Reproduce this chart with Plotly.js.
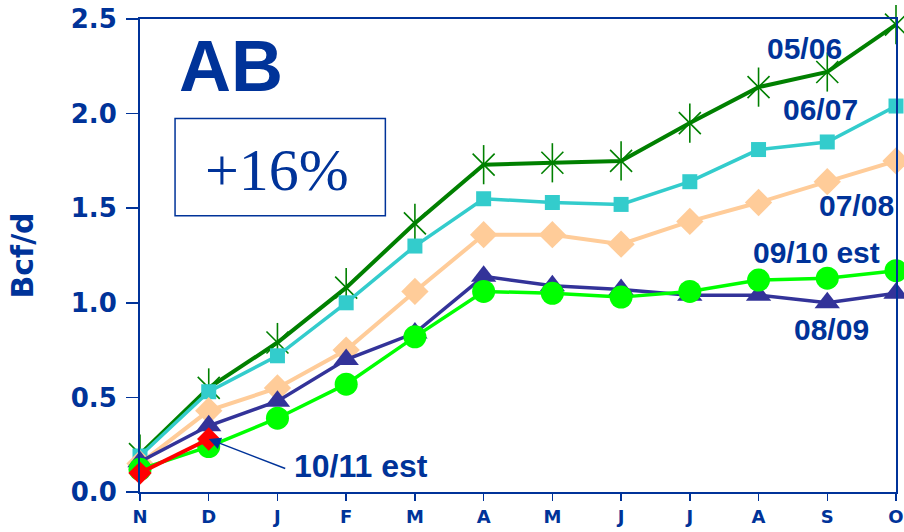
<!DOCTYPE html>
<html>
<head>
<meta charset="utf-8">
<script src="https://cdn.plot.ly/plotly-3.0.1.min.js"></script>
<style>html,body{margin:0;padding:0;background:#fff;}#chart{width:904px;height:532px;}</style>
</head>
<body>
<div id="chart"></div>
<script>
// Month tick labels (Nov .. Oct)
const months = ['N','D','J','F','M','A','M','J','J','A','S','O'];
const yTickVals = [0, 0.5, 1.0, 1.5, 2.0, 2.5];
const yTickText = ['0.0', '0.5', '1.0', '1.5', '2.0', '2.5'];

// Series values, Bcf/d
const s0506 = [0.20, 0.55, 0.79, 1.08, 1.42, 1.73, 1.74, 1.75, 1.95, 2.14, 2.22, 2.47];
const s0607 = [0.19, 0.53, 0.72, 1.00, 1.30, 1.55, 1.53, 1.52, 1.64, 1.81, 1.85, 2.04];
const s0708 = [0.15, 0.43, 0.55, 0.75, 1.06, 1.36, 1.36, 1.31, 1.43, 1.53, 1.64, 1.75];
const s0809 = [0.16, 0.35, 0.48, 0.70, 0.84, 1.14, 1.09, 1.07, 1.04, 1.04, 1.00, 1.05];
const s0910 = [0.12, 0.24, 0.39, 0.57, 0.82, 1.06, 1.05, 1.03, 1.06, 1.12, 1.13, 1.17];
const s1011 = [0.10, 0.28];

const xIdx = months.map((m, i) => i);
const navy = '#003399';

function line(name, ys, color, width, symbol, size, extra) {
  return Object.assign({
    type: 'scatter', mode: 'lines+markers', name: name,
    x: xIdx.slice(0, ys.length), y: ys,
    line: {color: color, width: width},
    marker: {symbol: symbol, size: size, color: color},
    cliponaxis: false, showlegend: false, hoverinfo: 'skip'
  }, extra || {});
}

const traces = [
  line('05/06', s0506, '#008000', 4, 'x-thin-open', 22, {marker: {symbol: 'x-thin-open', size: 22, color: '#008000', line: {color: '#008000', width: 1.6}}}),
  {type: 'scatter', mode: 'markers', x: xIdx, y: s0506, cliponaxis: false, showlegend: false, hoverinfo: 'skip',
   marker: {symbol: 'line-ns-open', size: 28, color: '#008000', line: {color: '#008000', width: 1.6}}},
  line('06/07', s0607, '#33CCCC', 3.5, 'square', 15),
  line('07/08', s0708, '#FFCC99', 4, 'diamond', 21),
  line('08/09', s0809, '#333399', 3.5, 'triangle-up', 22),
  line('09/10 est', s0910, '#00FF00', 3.5, 'circle', 23),
  line('10/11 est', s1011, '#FF0000', 4, 'diamond', 18)
];

const lblFont = {family: 'Liberation Sans, Arial, sans-serif', size: 30, color: navy, weight: 'bold'};
function lbl(text, x, y) {
  return {text: text, x: x, y: y, xref: 'x', yref: 'y', showarrow: false,
          xanchor: 'center', yanchor: 'middle', font: lblFont};
}

const layout = {
  width: 904, height: 532,
  margin: {l: 140, r: 8, t: 19, b: 40},
  paper_bgcolor: '#ffffff', plot_bgcolor: '#ffffff',
  showlegend: false,
  xaxis: {
    range: [0, 11], tickvals: xIdx, ticktext: months,
    showgrid: false, zeroline: false,
    showline: true, mirror: true, linecolor: navy, linewidth: 2,
    ticks: 'outside', ticklen: 7, tickwidth: 1.5, tickcolor: navy,
    ticklabelstandoff: 0,
    tickfont: {family: 'DejaVu Sans, sans-serif', size: 18, color: navy, weight: 'bold'}
  },
  yaxis: {
    range: [0, 2.5], tickvals: yTickVals, ticktext: yTickText,
    showgrid: false, zeroline: false,
    showline: true, mirror: true, linecolor: navy, linewidth: 2,
    ticks: 'outside', ticklen: 12, tickwidth: 1.5, tickcolor: navy,
    ticklabelstandoff: 4,
    tickfont: {family: 'DejaVu Sans, sans-serif', size: 26, color: navy, weight: 'bold'},
    title: {text: 'Bcf/d', standoff: 28,
            font: {family: 'DejaVu Sans, sans-serif', size: 30, color: navy, weight: 'bold'}}
  },
  shapes: [
    {type: 'rect', xref: 'x', yref: 'y', x0: 0.51, x1: 3.57, y0: 1.46, y1: 1.974,
     line: {color: navy, width: 1.5}, fillcolor: 'rgba(0,0,0,0)'}
  ],
  annotations: [
    {text: 'AB', x: 1.32, y: 2.25, xref: 'x', yref: 'y', showarrow: false,
     xanchor: 'center', yanchor: 'middle',
     font: {family: 'Liberation Sans, Arial, sans-serif', size: 72, color: navy, weight: 'bold'}},
    {text: '+16%', x: 2.0, y: 1.70, xref: 'x', yref: 'y', showarrow: false,
     xanchor: 'center', yanchor: 'middle',
     font: {family: 'Liberation Serif, Times New Roman, serif', size: 60, color: navy}},
    lbl('05/06', 9.67, 2.344),
    lbl('06/07', 9.90, 2.021),
    lbl('07/08', 10.43, 1.516),
    lbl('09/10 est', 9.85, 1.267),
    lbl('08/09', 10.06, 0.86),
    {text: '10/11 est', x: 3.22, y: 0.138, xref: 'x', yref: 'y', showarrow: false,
     xanchor: 'center', yanchor: 'middle',
     font: {family: 'Liberation Sans, Arial, sans-serif', size: 32, color: navy, weight: 'bold'}},
    {text: '', x: 1, y: s1011[1], xref: 'x', yref: 'y', showarrow: true,
     ax: 78, ay: 30, arrowhead: 2, arrowsize: 1.6, arrowwidth: 1.5, arrowcolor: navy, standoff: 0}
  ]
};

Plotly.newPlot('chart', traces, layout, {staticPlot: true, displayModeBar: false});
</script>
</body>
</html>
